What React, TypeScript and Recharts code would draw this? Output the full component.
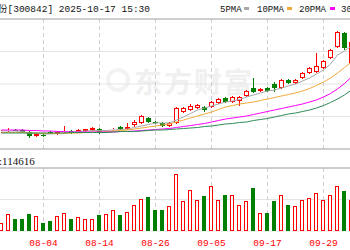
import React from "react";
import { ComposedChart, Bar, Line, XAxis, YAxis, CartesianGrid, ReferenceLine } from "recharts";

// trading days visible in the crop
const dates = [
  "07-25", "07-28", "07-29", "07-30", "07-31", "08-01", "08-04", "08-05", "08-06", "08-07",
  "08-08", "08-11", "08-12", "08-13", "08-14", "08-15", "08-18", "08-19", "08-20", "08-21",
  "08-22", "08-25", "08-26", "08-27", "08-28", "08-29", "09-01", "09-02", "09-03", "09-04",
  "09-05", "09-08", "09-09", "09-10", "09-11", "09-12", "09-15", "09-16", "09-17", "09-18",
  "09-19", "09-22", "09-23", "09-24", "09-25", "09-26", "09-29", "09-30", "10-09", "10-10",
  "10-13",
];

const open = [
  36.8, 37.2, 37.8, 37.6, 36.8, 35.2, 35.8, 36.8, 36.0, 36.8,
  37.2, 36.8, 37.2, 37.6, 38.0, 36.6, 37.6, 38.8, 38.0, 39.6,
  40.4, 42.4, 41.0, 40.4, 39.2, 40.4, 44.8, 45.6, 46.4, 46.8,
  46.8, 48.4, 50.4, 48.8, 49.2, 51.2, 54.4, 53.2, 54.4, 56.0,
  54.4, 57.6, 56.4, 58.4, 60.4, 60.8, 62.4, 66.4, 70.8, 76.4,
  64.4,
];
const close = [
  37.2, 37.8, 37.4, 36.8, 35.2, 36.0, 35.4, 36.4, 36.8, 37.2,
  36.4, 37.6, 38.0, 38.4, 36.4, 37.0, 38.2, 38.0, 38.8, 40.8,
  43.2, 40.8, 40.4, 39.2, 40.4, 46.4, 46.4, 47.2, 47.6, 45.6,
  48.8, 50.0, 48.8, 50.8, 50.8, 53.2, 52.8, 54.0, 53.2, 54.4,
  57.6, 56.4, 57.6, 60.4, 62.4, 63.2, 65.2, 69.6, 76.8, 70.4,
  72.8,
];
const high = [
  37.6, 38.4, 38.0, 38.0, 37.2, 36.4, 36.4, 37.2, 37.2, 39.2,
  37.6, 38.0, 38.2, 38.6, 38.4, 37.2, 38.4, 39.2, 40.4, 41.6,
  43.6, 42.8, 41.2, 40.8, 40.8, 46.8, 46.8, 48.0, 48.0, 47.2,
  49.2, 50.4, 50.8, 51.2, 51.2, 53.6, 58.4, 54.4, 54.8, 56.8,
  58.0, 58.0, 58.0, 60.8, 62.8, 68.4, 65.6, 70.0, 77.2, 76.8,
  73.6,
];
const low = [
  36.4, 36.8, 37.2, 36.4, 34.4, 34.8, 35.0, 36.0, 35.6, 36.4,
  36.0, 36.4, 37.0, 37.4, 36.0, 36.4, 37.2, 37.6, 37.6, 38.8,
  40.0, 40.4, 40.0, 38.8, 38.8, 40.0, 44.4, 45.2, 46.0, 44.8,
  46.4, 48.0, 48.4, 48.4, 47.2, 50.8, 52.4, 52.8, 52.8, 52.8,
  54.0, 56.0, 56.0, 58.0, 60.0, 60.4, 62.0, 66.0, 70.4, 69.6,
  64.0,
];
const volume = [
  33200, 69200, 46800, 49200, 66800, 60000, 32000, 38800, 60000, 72000,
  46800, 56000, 46800, 49200, 62800, 69200, 85200, 62800, 76000, 105200,
  129200, 136000, 82800, 82800, 100000, 229200, 118800, 165200, 125200, 140000,
  178800, 125200, 145200, 145200, 105200, 118800, 172000, 73200, 73200, 118800,
  145200, 102800, 100000, 125200, 133200, 153200, 125200, 142800, 180000, 158800,
  125200,
];

const ma5 = [
  37.2, 37.2, 37.2, 37.0, 36.4, 36.2, 36.0, 36.0, 36.2, 36.4,
  36.8, 37.0, 37.2, 37.4, 37.4, 37.4, 37.6, 37.8, 38.0, 38.6,
  39.2, 39.8, 40.4, 40.4, 40.4, 41.6, 42.8, 44.2, 45.6, 46.4,
  47.2, 48.0, 48.8, 49.2, 49.8, 50.8, 51.6, 52.4, 53.2, 53.6,
  54.4, 55.2, 56.0, 57.2, 58.4, 60.0, 61.6, 64.0, 67.6, 69.2,
  71.2,
];
const ma10 = [
  36.6, 36.6, 36.6, 36.6, 36.4, 36.4, 36.2, 36.2, 36.2, 36.2,
  36.4, 36.4, 36.6, 36.8, 36.8, 37.0, 37.2, 37.4, 37.6, 38.0,
  38.4, 38.8, 39.2, 39.6, 40.0, 40.8, 41.6, 42.4, 43.2, 44.0,
  44.8, 45.8, 46.8, 47.4, 48.0, 48.4, 48.8, 49.4, 50.0, 50.6,
  51.2, 51.8, 52.4, 53.2, 54.2, 55.4, 56.8, 58.4, 60.4, 62.6,
  64.8,
];
const ma20 = [
  37.6, 37.6, 37.6, 37.6, 37.4, 37.4, 37.2, 37.2, 37.0, 37.0,
  36.8, 36.8, 36.8, 36.8, 36.8, 36.8, 36.8, 37.0, 37.0, 37.2,
  37.4, 37.6, 37.8, 38.0, 38.2, 38.6, 39.0, 39.4, 39.8, 40.2,
  40.8, 41.4, 42.0, 42.4, 42.8, 43.2, 43.8, 44.4, 45.0, 45.6,
  46.2, 46.8, 47.4, 48.0, 48.8, 49.6, 50.8, 52.2, 54.0, 56.2,
  58.8,
];
const ma30 = [
  36.4, 36.4, 36.4, 36.4, 36.4, 36.4, 36.4, 36.4, 36.4, 36.4,
  36.6, 36.6, 36.6, 36.6, 36.6, 36.6, 36.8, 37.0, 37.0, 37.0,
  37.2, 37.4, 37.6, 37.6, 37.8, 38.0, 38.2, 38.4, 38.6, 39.0,
  39.2, 39.6, 40.0, 40.2, 40.6, 40.8, 41.4, 41.8, 42.2, 42.8,
  43.4, 44.0, 44.4, 45.0, 45.6, 46.4, 47.4, 48.6, 50.0, 51.6,
  53.6,
];

const tickDates = ["08-04", "08-14", "08-26", "09-05", "09-17", "09-29"];
const priceTicks = [30, 36.5, 43, 49.5, 56, 62.5, 69, 75.5, 82];
const volTicks = [0, 63000, 126000, 189000, 252000];

const UP = "#ff0000";
const DOWN = "#008000";
const MONO = "'Liberation Mono', 'Noto Sans CJK SC', monospace";

const data = dates.map((date, i) => ({
  date,
  open: open[i],
  close: close[i],
  high: high[i],
  low: low[i],
  vol: volume[i],
  ma5: ma5[i],
  ma10: ma10[i],
  ma20: ma20[i],
  ma30: ma30[i],
}));

const Candle = (props: any) => {
  const { x, y, width, height, payload } = props;
  const { open, close, high, low } = payload;
  const span = high - low || 1;
  const toY = (v: number) => y + ((high - v) / span) * height;
  const cx = Math.floor(x + width / 2) + 0.5;
  const up = close >= open;
  const top = Math.round(toY(Math.max(open, close)));
  const bot = Math.round(toY(Math.min(open, close)));
  const hi = Math.round(y);
  const lo = Math.round(y + height);
  if (up) {
    return (
      <g>
        <line x1={cx} x2={cx} y1={hi} y2={top} stroke={UP} />
        <line x1={cx} x2={cx} y1={bot} y2={lo} stroke={UP} />
        <rect x={cx - 2} y={top + 0.5} width={4} height={Math.max(bot - top - 1, 0)} fill="#fff" stroke={UP} />
      </g>
    );
  }
  return (
    <g>
      <line x1={cx} x2={cx} y1={hi} y2={lo} stroke={DOWN} />
      <rect x={cx - 2.5} y={top} width={5} height={Math.max(bot - top, 1)} fill={DOWN} />
    </g>
  );
};

const VolBar = (props: any) => {
  const { x, y, width, height, payload } = props;
  const cx = Math.floor(x + width / 2) + 0.5;
  const top = Math.round(y);
  const bot = Math.round(y + height);
  if (payload.close >= payload.open) {
    return <rect x={cx - 2} y={top + 0.5} width={3} height={bot - top - 1} fill="#fff" stroke={UP} />;
  }
  return <rect x={cx - 2.5} y={top} width={4} height={bot - top} fill={DOWN} />;
};

export default function App() {
  return (
    <div style={{ position: "absolute", left: 0, top: 0, width: 350, height: 250, overflow: "hidden", background: "#fff" }}>
      {/* watermark */}
      <svg width={350} height={250} style={{ position: "absolute", left: 0, top: 0 }}>
        <circle cx={118} cy={80} r={10} fill="none" stroke="#f2f2f2" strokeWidth={4} />
        <text x={134} y={93} fontSize={28} fontWeight={700} fill="#f0f0f0" fontFamily="'Noto Sans CJK SC', sans-serif" letterSpacing={2}>
          东方财富
        </text>
      </svg>

      <div style={{ position: "absolute", left: -2, top: 0 }}>
        <ComposedChart width={357} height={150} data={data} margin={{ top: 19, right: 0, bottom: 1, left: 0 }} barSize={5}>
          <CartesianGrid horizontal={true} vertical={false} stroke="#e4e4e4" />
          <CartesianGrid horizontal={false} vertical={true} stroke="#cfcfcf" strokeDasharray="4 3" />
          <XAxis dataKey="date" hide ticks={tickDates} interval={0} />
          <YAxis hide domain={[30, 82]} ticks={priceTicks} />
          <ReferenceLine y={82} stroke="#aaaaaa" />
          <ReferenceLine y={30} stroke="#aaaaaa" />
          <Bar dataKey={(d: any) => [d.low, d.high]} shape={<Candle />} isAnimationActive={false} />
          <Line dataKey="ma5" stroke="#a8a8a8" dot={false} strokeWidth={1} isAnimationActive={false} />
          <Line dataKey="ma10" stroke="#f2a93b" dot={false} strokeWidth={1} isAnimationActive={false} />
          <Line dataKey="ma20" stroke="#ff00ff" dot={false} strokeWidth={1} isAnimationActive={false} />
          <Line dataKey="ma30" stroke="#2e8b57" dot={false} strokeWidth={1} isAnimationActive={false} />
        </ComposedChart>
      </div>

      <div style={{ position: "absolute", left: -2, top: 150 }}>
        <ComposedChart width={357} height={100} data={data} margin={{ top: 18, right: 0, bottom: 0, left: 0 }} barSize={5}>
          <CartesianGrid horizontal={true} vertical={false} stroke="#e4e4e4" />
          <CartesianGrid horizontal={false} vertical={true} stroke="#cfcfcf" strokeDasharray="4 3" />
          <XAxis
            dataKey="date"
            ticks={tickDates}
            interval={0}
            height={19}
            tickLine={false}
            axisLine={false}
            tick={{ fill: "#ff0000", fontSize: 9.5, fontFamily: MONO }}
          />
          <YAxis hide domain={[0, 252000]} ticks={volTicks} />
          <ReferenceLine y={252000} stroke="#aaaaaa" />
          <Bar dataKey="vol" shape={<VolBar />} isAnimationActive={false} />
        </ComposedChart>
      </div>

      <svg width={350} height={250} style={{ position: "absolute", left: 0, top: 0, pointerEvents: "none" }}>
        <text x={-2} y={12} fontSize={9.5} fontFamily={MONO} fill="#111">
          份[300842] 2025-10-17 15:30
        </text>
        <text x={220} y={12} fontSize={9} fontFamily={MONO} fill="#111">5PMA</text>
        <rect x={244} y={7} width={5} height={3} fill="#a8a8a8" />
        <text x={257} y={12} fontSize={9} fontFamily={MONO} fill="#111">10PMA</text>
        <rect x={287} y={7} width={5} height={3} fill="#f2a93b" />
        <text x={299} y={12} fontSize={9} fontFamily={MONO} fill="#111">20PMA</text>
        <rect x={330} y={7} width={5} height={3} fill="#ff00ff" />
        <text x={341} y={12} fontSize={9} fontFamily={MONO} fill="#111">30PMA</text>
        <text x={-1} y={165} fontSize={11} fontFamily="'Liberation Serif', serif" fill="#111">:114616</text>
      </svg>
    </div>
  );
}
